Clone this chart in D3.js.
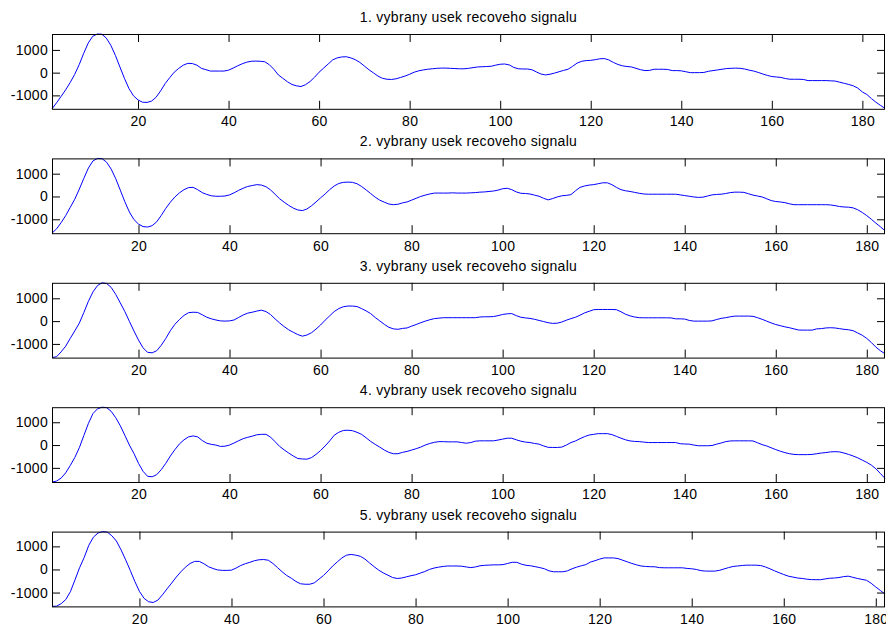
<!DOCTYPE html>
<html>
<head>
<meta charset="utf-8">
<script src="https://cdn.jsdelivr.net/npm/d3@7"></script>
<style>
  body { margin: 0; background: #fff; }
  svg { display: block; }
  text { font-family: "Liberation Sans", Arial, Helvetica, sans-serif; fill: #000; }
</style>
</head>
<body>
<div id="chart"></div>
<script>

// Titles of the five subplots.
var titles = [
  '1. vybrany usek recoveho signalu',
  '2. vybrany usek recoveho signalu',
  '3. vybrany usek recoveho signalu',
  '4. vybrany usek recoveho signalu',
  '5. vybrany usek recoveho signalu'
];

var xTicks = [20, 40, 60, 80, 100, 120, 140, 160, 180];
var yTicks = [-1000, 0, 1000];

// Signal samples (sample 1..n).
var signal1 = [-1590, -1330, -1050, -760, -440, -80, 350, 850, 1300, 1600,
  1700, 1690, 1520, 1200, 760, 250, -250, -700, -1020, -1200,
  -1300, -1310, -1250, -1080, -800, -480, -220, 20, 190, 330,
  410, 400, 330, 190, 130, 70, 70, 70, 70, 110,
  200, 300, 390, 460, 500, 510, 500, 480, 350, 150,
  -100, -250, -400, -520, -580, -610, -530, -390, -200, 20,
  200, 380, 560, 650, 690, 700, 650, 570, 450, 290,
  130, -10, -150, -250, -290, -300, -270, -210, -150, -70,
  20, 80, 120, 150, 170, 190, 200, 200, 190, 180,
  170, 170, 190, 220, 250, 260, 270, 280, 330, 370,
  380, 340, 230, 170, 160, 160, 130, 30, -60, -100,
  -70, -20, 40, 100, 150, 280, 420, 500, 530, 540,
  570, 610, 620, 560, 450, 360, 300, 270, 250, 190,
  130, 90, 100, 150, 150, 150, 140, 90, 90, 80,
  40, 0, 0, 0, 10, 60, 90, 120, 150, 180,
  190, 200, 190, 160, 110, 70, 10, -60, -120, -170,
  -190, -210, -260, -290, -290, -290, -300, -350, -350, -350,
  -350, -350, -360, -370, -420, -470, -520, -580, -680, -850,
  -960, -1140, -1300, -1440, -1570];

var signal2 = [-1610, -1420, -1150, -840, -480, -120, 320, 800, 1250, 1560,
  1670, 1660, 1500, 1200, 780, 280, -230, -680, -1010, -1210,
  -1320, -1340, -1280, -1110, -830, -520, -250, -20, 160, 300,
  390, 400, 300, 170, 90, 30, 10, 10, 20, 70,
  160, 270, 360, 440, 480, 520, 500, 430, 290, 100,
  -100, -250, -390, -510, -590, -620, -550, -410, -240, -60,
  110, 300, 460, 570, 620, 630, 620, 560, 440, 290,
  130, -30, -160, -250, -330, -360, -340, -280, -240, -160,
  -80, 0, 60, 110, 150, 150, 150, 150, 160, 150,
  150, 150, 160, 170, 190, 200, 220, 240, 280, 340,
  360, 300, 200, 140, 130, 110, 60, 10, -80, -150,
  -90, -20, 30, 50, 80, 250, 400, 460, 500, 520,
  560, 600, 600, 520, 400, 300, 250, 220, 180, 140,
  110, 100, 100, 100, 100, 100, 100, 100, 70, 40,
  10, -20, -40, -30, 20, 70, 90, 100, 130, 170,
  190, 190, 180, 120, 60, 20, -20, -100, -180, -220,
  -240, -270, -320, -360, -360, -360, -360, -360, -360, -360,
  -360, -370, -400, -440, -460, -470, -500, -580, -700, -840,
  -1000, -1170, -1330, -1500];

var signal3 = [-1600, -1560, -1350, -1100, -760, -430, -90, 380, 870, 1280,
  1560, 1680, 1650, 1480, 1170, 800, 420, -10, -430, -830,
  -1170, -1370, -1390, -1300, -1060, -760, -420, -140, 70, 250,
  370, 390, 380, 280, 170, 100, 50, 10, 0, 10,
  50, 160, 270, 350, 390, 440, 480, 420, 290, 100,
  -80, -240, -380, -490, -590, -660, -610, -510, -350, -170,
  40, 230, 420, 550, 630, 660, 660, 640, 550, 450,
  330, 160, 10, -140, -270, -340, -360, -320, -300, -220,
  -150, -70, 0, 60, 110, 130, 150, 150, 150, 150,
  150, 150, 150, 150, 180, 190, 190, 200, 240, 290,
  320, 330, 240, 170, 140, 120, 80, 30, -20, -70,
  -100, -90, -40, 40, 110, 170, 260, 360, 430, 500,
  510, 510, 510, 510, 500, 410, 300, 230, 180, 150,
  145, 145, 145, 145, 145, 145, 140, 100, 100, 90,
  30, 0, 0, 0, 0, 10, 70, 120, 150, 190,
  220, 220, 220, 220, 210, 150, 80, 0, -80, -150,
  -200, -250, -290, -340, -390, -395, -395, -395, -340, -330,
  -300, -290, -300, -330, -360, -380, -420, -520, -620, -760,
  -940, -1140, -1300, -1430];

var signal4 = [-1620, -1580, -1450, -1220, -900, -550, -120, 420, 950, 1380,
  1590, 1660, 1640, 1480, 1200, 850, 430, 0, -370, -800,
  -1150, -1370, -1390, -1300, -1080, -800, -480, -200, 50, 230,
  360, 400, 360, 200, 80, 30, 0, -60, -50, 0,
  90, 190, 280, 340, 390, 450, 470, 470, 350, 150,
  -60, -210, -350, -480, -590, -610, -620, -550, -410, -240,
  -40, 180, 430, 560, 640, 650, 630, 560, 470, 320,
  160, 30, -90, -220, -320, -380, -380, -320, -280, -220,
  -160, -90, 0, 70, 120, 150, 150, 140, 140, 140,
  110, 80, 110, 170, 185, 185, 185, 185, 220, 260,
  300, 300, 230, 170, 130, 110, 70, 40, -40, -100,
  -105, -105, -90, 0, 110, 180, 280, 370, 440, 470,
  500, 500, 500, 460, 380, 300, 230, 180, 160, 150,
  130, 110, 110, 110, 110, 110, 110, 110, 60, 45,
  40, 0, -30, -30, -30, -20, 40, 90, 150, 180,
  185, 185, 185, 185, 180, 100, 20, -40, -120, -200,
  -270, -330, -380, -410, -420, -420, -420, -410, -380, -350,
  -330, -300, -290, -300, -350, -410, -480, -560, -660, -760,
  -880, -1040, -1250, -1460];

var signal5 = [-1600, -1590, -1480, -1300, -960, -450, 80, 520, 1050, 1400,
  1580, 1640, 1620, 1460, 1230, 850, 420, -40, -520, -950,
  -1250, -1400, -1430, -1330, -1100, -840, -590, -330, -100, 100,
  260, 350, 350, 250, 120, 40, -20, -40, -40, -30,
  60, 170, 250, 310, 380, 420, 430, 400, 260, 80,
  -100, -260, -380, -520, -620, -640, -640, -580, -420, -260,
  -60, 150, 330, 500, 620, 650, 620, 570, 450, 280,
  120, -30, -150, -250, -350, -390, -370, -320, -270, -230,
  -160, -90, 0, 60, 100, 130, 150, 150, 150, 140,
  110, 80, 110, 160, 180, 190, 200, 200, 210, 260,
  310, 310, 230, 180, 160, 120, 80, 30, -60, -100,
  -100, -100, -60, 30, 100, 160, 210, 320, 380, 450,
  500, 500, 500, 470, 400, 330, 260, 200, 150, 130,
  120, 115, 80, 72, 72, 72, 72, 72, 45, 30,
  0, -50, -70, -72, -72, -40, 20, 80, 130, 150,
  175, 186, 186, 186, 170, 110, 30, -60, -140, -220,
  -290, -330, -370, -390, -420, -440, -443, -443, -410, -380,
  -370, -350, -310, -290, -340, -390, -430, -470, -600, -760,
  -910, -1070];

var signals = [signal1, signal2, signal3, signal4, signal5];

var width = 886,
  height = 627;

var margin = { left: 52, right: 1 };
var plotTop = 34,
  plotStep = 124.4,
  plotHeight = 74.8;
var tick = 8;

var svg = d3.select('#chart')
  .append('svg')
  .attr('width', width)
  .attr('height', height);

var plotWidth = width - margin.left - margin.right;

signals.forEach(function(values, k) {

  var data = values.map(function(v, i) {
    return { x: i + 1, y: v };
  });

  var g = svg.append('g')
    .attr('transform', 'translate(' + margin.left + ',' + (plotTop + k * plotStep) + ')');

  // axis tight: domains are the data limits
  var xScale = d3.scaleLinear()
    .domain([1, data.length])
    .range([0, plotWidth]);

  var yScale = d3.scaleLinear()
    .domain(d3.extent(values))
    .range([plotHeight, 0]);

  var line = d3.line()
    .x(function(d) { return xScale(d.x); })
    .y(function(d) { return yScale(d.y); });

  g.append('path')
    .datum(data)
    .attr('fill', 'none')
    .attr('stroke', '#0000ff')
    .attr('stroke-width', 1)
    .attr('d', line);

  // Ticks pointing inwards on all four sides, labels only bottom and left.

  var bottom = g.append('g')
    .attr('transform', 'translate(0,' + plotHeight + ')')
    .call(d3.axisBottom(xScale)
      .tickValues(xTicks)
      .tickSizeInner(-tick)
      .tickSizeOuter(0)
      .tickPadding(7.5)
      .tickFormat(d3.format('d')));

  var top = g.append('g')
    .call(d3.axisTop(xScale)
      .tickValues(xTicks)
      .tickSizeInner(-tick)
      .tickSizeOuter(0)
      .tickFormat(''));

  var left = g.append('g')
    .call(d3.axisLeft(yScale)
      .tickValues(yTicks)
      .tickSizeInner(-tick)
      .tickSizeOuter(0)
      .tickPadding(4)
      .tickFormat(d3.format('d')));

  var right = g.append('g')
    .attr('transform', 'translate(' + plotWidth + ',0)')
    .call(d3.axisRight(yScale)
      .tickValues(yTicks)
      .tickSizeInner(-tick)
      .tickSizeOuter(0)
      .tickFormat(''));

  [bottom, top, left, right].forEach(function(a) {
    a.select('.domain').remove();
    a.selectAll('line').attr('stroke', '#000');
    a.selectAll('text')
      .attr('fill', '#000')
      .style('font-size', '14px')
      .style('letter-spacing', '0.3px');
  });

  // minus sign as a plain hyphen, like the original
  left.selectAll('text').text(function(d) { return String(d); });

  g.append('rect')
    .attr('x', 0.5)
    .attr('y', 0.5)
    .attr('width', plotWidth - 1)
    .attr('height', plotHeight)
    .attr('fill', 'none')
    .attr('stroke', '#000')
    .attr('stroke-width', 1);

  g.append('text')
    .attr('x', plotWidth / 2)
    .attr('y', -12)
    .attr('text-anchor', 'middle')
    .style('font-size', '14px')
    .style('letter-spacing', '0.3px')
    .text(titles[k]);
});

</script>
</body>
</html>
